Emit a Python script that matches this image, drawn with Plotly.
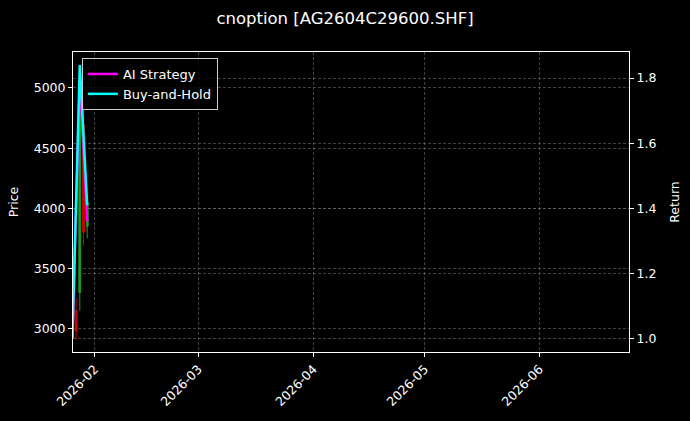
import plotly.graph_objects as go

# =====================================================
# DATA
# =====================================================

candle_dates = ["2026-01-27", "2026-01-28", "2026-01-29", "2026-01-30"]
open_px = [3150, 3300, 4700, 3850]
high_px = [3250, 5186, 4900, 4050]
low_px = [2905, 3150, 3690, 3750]
close_px = [2980, 4900, 3800, 4040]

line_dates = ["2026-01-26", "2026-01-28", "2026-01-30"]
ai_strategy = [1.0, 1.80, 1.36]
buy_hold = [1.0, 1.84, 1.41]

title_text = "cnoption [AG2604C29600.SHF]"

# =====================================================
# FIGURE
# =====================================================

fig = go.Figure()

fig.add_trace(
    go.Candlestick(
        x=candle_dates,
        open=open_px,
        high=high_px,
        low=low_px,
        close=close_px,
        increasing=dict(line=dict(color="#1f9e1f", width=1), fillcolor="#1f9e1f"),
        decreasing=dict(line=dict(color="#d00000", width=1), fillcolor="#d00000"),
        whiskerwidth=0,
        showlegend=False,
        yaxis="y",
    )
)

fig.add_trace(
    go.Scatter(
        x=line_dates,
        y=ai_strategy,
        mode="lines",
        name="AI Strategy",
        line=dict(color="#ff00ff", width=2.5),
        yaxis="y2",
    )
)

fig.add_trace(
    go.Scatter(
        x=line_dates,
        y=buy_hold,
        mode="lines",
        name="Buy-and-Hold",
        line=dict(color="#00ffff", width=2.5),
        yaxis="y2",
    )
)

grid = dict(
    showgrid=True,
    gridcolor="rgba(120,120,120,0.55)",
    griddash="3px,2px",
    gridwidth=0.5,
)

fig.update_layout(
    width=690,
    height=421,
    paper_bgcolor="#000000",
    plot_bgcolor="#000000",
    font=dict(family="DejaVu Sans", color="white", size=12),
    margin=dict(l=73, r=61, t=52, b=69, autoexpand=False),
    title=dict(
        text=title_text,
        x=0.5,
        xanchor="center",
        y=0.957,
        yanchor="middle",
        font=dict(size=16.5, color="white"),
    ),
    xaxis=dict(
        type="date",
        range=["2026-01-26 04:00", "2026-06-25 03:00"],
        dtick="M1",
        tick0="2026-02-01",
        tickformat="%Y-%m",
        tickangle=-45,
        ticks="outside",
        ticklen=4,
        tickcolor="white",
        showline=True,
        linecolor="white",
        linewidth=1,
        mirror=True,
        automargin=False,
        rangeslider=dict(visible=False),
        tickfont=dict(size=12.5),
        **grid,
    ),
    yaxis=dict(
        title=dict(text="Price", font=dict(size=12.5), standoff=12),
        range=[2806, 5299],
        tickvals=[3000, 3500, 4000, 4500, 5000],
        ticks="outside",
        ticklen=4,
        tickcolor="white",
        showline=True,
        linecolor="white",
        linewidth=1,
        zeroline=False,
        automargin=False,
        tickfont=dict(size=12.5),
        **grid,
    ),
    yaxis2=dict(
        title=dict(text="Return", font=dict(size=12.5), standoff=14),
        overlaying="y",
        side="right",
        range=[0.959, 1.88],
        tickvals=[1.0, 1.2, 1.4, 1.6, 1.8],
        tickformat=".1f",
        ticks="outside",
        ticklen=4,
        tickcolor="white",
        showline=True,
        linecolor="white",
        linewidth=1,
        zeroline=False,
        automargin=False,
        tickfont=dict(size=12.5),
        **grid,
    ),
    legend=dict(
        x=0.016,
        y=0.98,
        xanchor="left",
        yanchor="top",
        bgcolor="rgba(0,0,0,0.8)",
        bordercolor="#cccccc",
        borderwidth=1,
        font=dict(size=13, color="white"),
        tracegroupgap=0,
    ),
    showlegend=True,
)

# page body has a default 8px margin; drop it so the figure fills the window
fig.write_html(
    "out.html",
    config={"displayModeBar": False},
    post_script="document.body.style.margin='0';document.body.style.background='#000';",
)
